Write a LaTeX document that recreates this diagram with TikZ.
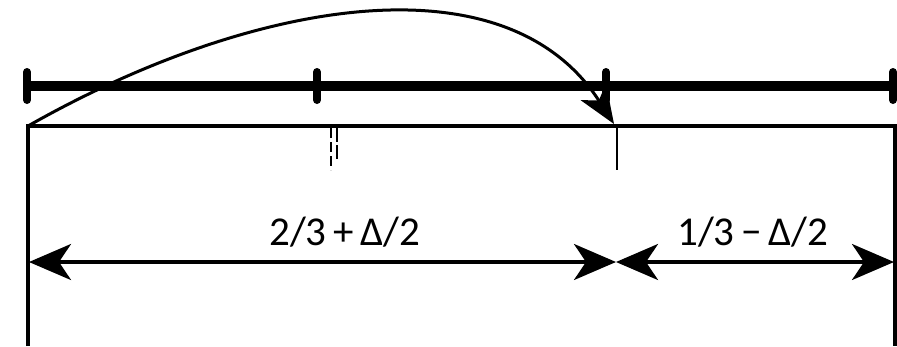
\documentclass[tikz,border=0pt]{standalone}
\usepackage{fontspec}
\setmainfont{Carlito}
\usetikzlibrary{arrows.meta}
\begin{document}
\begin{tikzpicture}[x=1pt,y=-1pt,
  bar/.style={line width=10pt},
  tick/.style={line width=8pt,line cap=round},
  frame/.style={line width=3.5pt},
  thin/.style={line width=2pt},
  dim/.style={line width=3.5pt,{Stealth[length=42pt,width=36pt,inset=12pt]}-{Stealth[length=42pt,width=36pt,inset=12pt]}},
  lbl/.style={font=\fontsize{41}{44}\selectfont,inner sep=0pt,anchor=base}]
\useasboundingbox (0,0) rectangle (897,346);
% thick bar with ticks
\coordinate (b0) at (27,86);
\coordinate (b1) at (317,86);
\coordinate (b2) at (606,86);
\coordinate (b3) at (893,86);
\draw[bar] (b0) -- (b3);
\foreach \p in {b0,b1,b2,b3}{
  \draw[tick] ([yshift=-14pt]\p) -- ([yshift=14pt]\p);
}
% frame
\coordinate (tl) at (28,126);
\coordinate (tr) at (895,126);
\coordinate (bl) at (28,346);
\coordinate (br) at (895,346);
\draw[frame] (bl) -- (tl) -- (tr) -- (br);
% marks
\coordinate (m1) at (617,126);
\coordinate (m1b) at (617,170);
\draw[thin] (m1) -- (m1b);
\coordinate (d1) at (331,128);
\coordinate (d1b) at (331,170);
\coordinate (d2) at (337,128);
\coordinate (d2b) at (337,160);
\draw[line width=1.5pt,dash pattern=on 10pt off 4pt] (d1) -- (d1b);
\draw[line width=1.5pt,dash pattern=on 14pt off 3pt] (d2) -- (d2b);
% curved arrow
\coordinate (c0) at (28,126);
\coordinate (c3) at (614,124);
\draw[line width=3pt,-{Stealth[length=38pt,width=30pt,inset=10pt]}] (c0) .. controls (250,0) and (505,-45) .. (c3);
% dimension arrows
\coordinate (a0) at (29,262);
\coordinate (a1) at (616,262);
\coordinate (a2) at (894,262);
\draw[dim] (a0) -- (a1);
\draw[dim] (a1) -- (a2);
\node[lbl] (l1) at (345,245) {2/3\,+\,Δ/2};
\node[lbl] (l2) at (753,245) {1/3\,−\,Δ/2};
\end{tikzpicture}
\end{document}
